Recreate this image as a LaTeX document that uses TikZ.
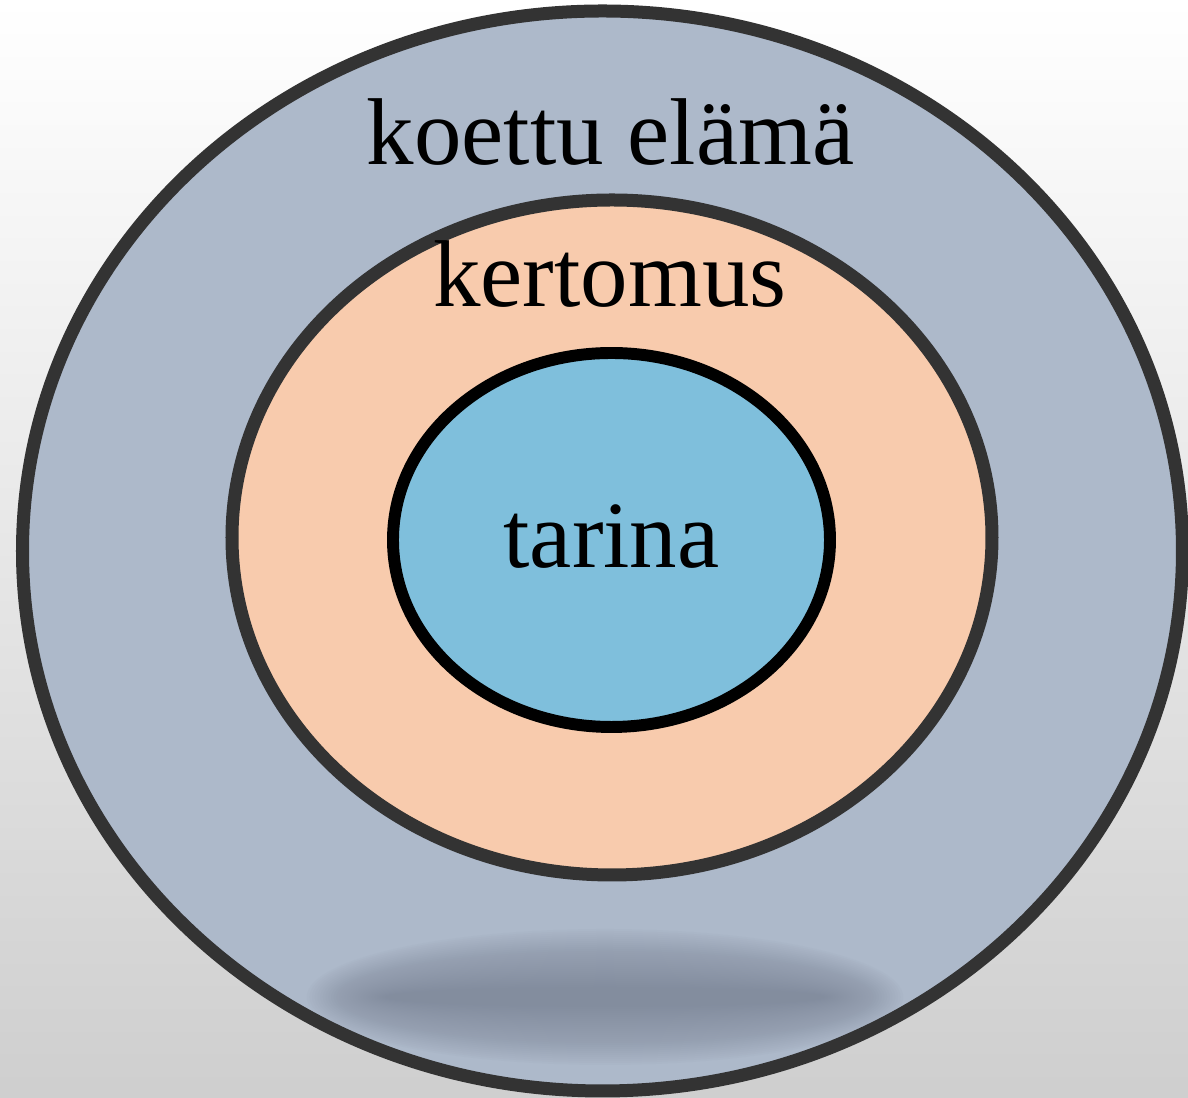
\documentclass[tikz,border=0pt]{standalone}
\usepackage{fontspec}
\setmainfont{Liberation Serif}
\usepackage{tikz}
\usetikzlibrary{shapes.geometric}
\definecolor{lifefill}{HTML}{ADB9CA}
\definecolor{narrfill}{HTML}{F8CBAD}
\definecolor{storyfill}{HTML}{7FBFDC}
\definecolor{ringline}{HTML}{333333}
\definecolor{shadowcol}{HTML}{838C9E}
\tikzset{
	ring/.style={draw=ringline,line width=3.7pt,ellipse,inner sep=0pt,outer sep=0pt},
	word/.style={font=\fontsize{27}{30}\selectfont,anchor=base,inner sep=0pt}
}

\begin{document}
\begin{tikzpicture}
	\useasboundingbox (0,0) rectangle (11.88,-10.98);
	\shade[top color=white,bottom color=black!19] (0,0) rectangle (11.88,-10.98);
	\node[ring,fill=lifefill,minimum width=11.6cm,minimum height=10.8cm] (e1) at (6.025,-5.51) {};
	% soft shadow in the lower part of the outer ring
	\begin{scope}
		\clip (6.025,-5.51) ellipse [x radius=5.735, y radius=5.335];
		\coordinate (sh) at (6.05,-9.97);
		\foreach \k in {0,...,29}
			\fill[shadowcol,opacity=0.05] (sh) ellipse [x radius=2.2+0.027*\k, y radius=0.1+0.02*\k];
	\end{scope}
	\node[ring,fill=narrfill,minimum width=7.6cm,minimum height=6.75cm] (e2) at (6.12,-5.375) {};
	\node[ring,draw=black,line width=3.4pt,fill=storyfill,minimum width=4.37cm,minimum height=3.74cm] (e3) at (6.115,-5.40) {};
	\node[word] (t1) at (6.105,-1.65) {koettu elämä};
	\node[word] (t2) at (6.1,-3.07) {kertomus};
	\node[word] (t3) at (6.115,-5.68) {tarina};
\end{tikzpicture}
\end{document}
